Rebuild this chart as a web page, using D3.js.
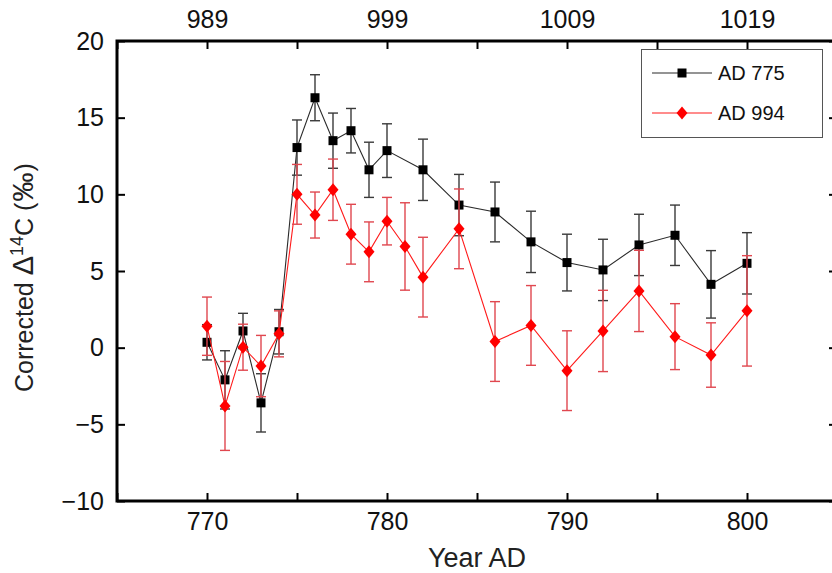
<!DOCTYPE html>
<html>
<head>
<meta charset="utf-8">
<script src="https://cdn.jsdelivr.net/npm/d3@7"></script>
<style>
  body { margin: 0; background: #fff; }
  svg { display: block; font-family: "Liberation Sans", Arial, sans-serif; }
</style>
</head>
<body>
<div id="chart"></div>
<script>
// AD 775 event (black squares)
const years775 = [770, 771, 772, 773, 774, 775, 776, 777, 778, 779, 780, 782, 784, 786, 788, 790, 792, 794, 796, 798, 800];
const values775 = [0.35, -2.1, 1.09, -3.6, 1.04, 13.05, 16.3, 13.5, 14.15, 11.6, 12.85, 11.6, 9.3, 8.85, 6.9, 5.55, 5.07, 6.7, 7.33, 4.13, 5.5];
const errors775 = [1.15, 1.9, 1.15, 1.9, 1.45, 1.8, 1.5, 1.8, 1.45, 1.8, 1.75, 2.0, 2.0, 1.95, 2.0, 1.85, 2.0, 2.0, 1.97, 2.2, 2.0];

// AD 994 event (red diamonds), plotted on the same relative years
const years994 = [770, 771, 772, 773, 774, 775, 776, 777, 778, 779, 780, 781, 782, 784, 786, 788, 790, 792, 794, 796, 798, 800];
const values994 = [1.4, -3.8, 0.03, -1.2, 0.9, 10.0, 8.65, 10.3, 7.4, 6.25, 8.25, 6.6, 4.6, 7.75, 0.4, 1.45, -1.5, 1.09, 3.7, 0.72, -0.48, 2.4];
const errors994 = [1.9, 2.9, 1.5, 2.0, 1.5, 1.95, 1.5, 2.0, 1.95, 1.95, 1.55, 2.85, 2.6, 2.6, 2.6, 2.6, 2.6, 2.65, 2.65, 2.15, 2.1, 3.6];

const bottomTicks = [770, 780, 790, 800];
const topTicks = [989, 999, 1009, 1019];
const yTicks = [-10, -5, 0, 5, 10, 15, 20];
const yearOffset = 219; // AD 994 = AD 775 + 219

const width = 832, height = 573;
const margin = { top: 41, right: -5, bottom: 72, left: 117 };

const svg = d3.select("#chart").append("svg")
  .attr("width", width)
  .attr("height", height);

const x = d3.scaleLinear().domain([765, 805]).range([margin.left, width - margin.right]);
const y = d3.scaleLinear().domain([-10, 20]).range([height - margin.bottom, margin.top]);

const fmt = (d) => (d < 0 ? "\u2212" + Math.abs(d) : String(d));

// minor ticks every 5 years, labels every 10
const minorX = d3.range(765, 806, 5);

function styleAxis(g) {
  g.select(".domain").remove();
  g.selectAll(".tick line").attr("stroke", "#000").attr("stroke-width", 2);
  g.selectAll(".tick text").attr("fill", "#111").attr("font-size", 25);
}

// bottom axis
svg.append("g")
  .attr("transform", `translate(0,${y(-10)})`)
  .call(d3.axisBottom(x).tickValues(minorX).tickSizeInner(-8).tickSizeOuter(0).tickPadding(11)
    .tickFormat((d) => (bottomTicks.includes(d) ? d : "")))
  .call(styleAxis);

// top axis (AD 994 years)
svg.append("g")
  .attr("transform", `translate(0,${y(20)})`)
  .call(d3.axisTop(x).tickValues(minorX).tickSizeInner(-8).tickSizeOuter(0).tickPadding(13)
    .tickFormat((d) => (topTicks.includes(d + yearOffset) ? d + yearOffset : "")))
  .call(styleAxis);

// left axis
svg.append("g")
  .attr("transform", `translate(${x(765)},0)`)
  .call(d3.axisLeft(y).tickValues(yTicks).tickSizeInner(-8).tickSizeOuter(0).tickPadding(13).tickFormat(fmt))
  .call(styleAxis);

// right axis (ticks only)
svg.append("g")
  .attr("transform", `translate(${x(805)},0)`)
  .call(d3.axisRight(y).tickValues(yTicks).tickSizeInner(-8).tickSizeOuter(0).tickFormat(""))
  .call(styleAxis);

// frame
svg.append("rect")
  .attr("x", x(765))
  .attr("y", y(20))
  .attr("width", x(805) - x(765))
  .attr("height", y(-10) - y(20))
  .attr("fill", "none")
  .attr("stroke", "#000")
  .attr("stroke-width", 3);

// axis titles
svg.append("text")
  .attr("x", x(785))
  .attr("y", 567)
  .attr("text-anchor", "middle")
  .attr("font-size", 27)
  .attr("fill", "#222")
  .text("Year AD");

const yTitle = svg.append("text")
  .attr("transform", `translate(33,392) rotate(-90)`)
  .attr("text-anchor", "start")
  .attr("font-size", 25)
  .attr("fill", "#222");
yTitle.append("tspan").text("Corrected ");
yTitle.append("tspan").attr("font-size", 29).text("\u0394");
yTitle.append("tspan").attr("font-size", 18).attr("dy", -10).text("14");
yTitle.append("tspan").attr("dy", 10).text("C (");
yTitle.append("tspan").attr("font-size", 29).attr("dx", 1).text("\u2030");
yTitle.append("tspan").attr("dx", 1).text(")");

const squarePath = (s) => `M${-s},${-s}H${s}V${s}H${-s}Z`;
const diamondPath = (w, h) => `M0,${-h}L${w},0L0,${h}L${-w},0Z`;

const series = [
  { years: years775, values: values775, errors: errors775, line: "#2a2a2a", bar: "#3a3a3a", marker: "#000", shape: squarePath(4.5) },
  { years: years994, values: values994, errors: errors994, line: "#ff1a1a", bar: "#e0474f", marker: "#ff0000", shape: diamondPath(5.5, 6.5) },
];

series.forEach((s) => {
  const pts = s.years.map((yr, i) => ({ yr, v: s.values[i], e: s.errors[i] }));
  const g = svg.append("g");

  g.append("path")
    .datum(pts)
    .attr("fill", "none")
    .attr("stroke", s.line)
    .attr("stroke-width", 1.1)
    .attr("d", d3.line().x((d) => x(d.yr)).y((d) => y(d.v)));

  const bars = g.selectAll("g.err").data(pts).enter().append("g").attr("class", "err")
    .attr("stroke", s.bar).attr("stroke-width", 1.4);
  bars.append("line")
    .attr("x1", (d) => x(d.yr)).attr("x2", (d) => x(d.yr))
    .attr("y1", (d) => y(d.v + d.e)).attr("y2", (d) => y(d.v - d.e));
  bars.append("line")
    .attr("x1", (d) => x(d.yr) - 5).attr("x2", (d) => x(d.yr) + 5)
    .attr("y1", (d) => y(d.v + d.e)).attr("y2", (d) => y(d.v + d.e));
  bars.append("line")
    .attr("x1", (d) => x(d.yr) - 5).attr("x2", (d) => x(d.yr) + 5)
    .attr("y1", (d) => y(d.v - d.e)).attr("y2", (d) => y(d.v - d.e));

  g.selectAll("path.mk").data(pts).enter().append("path").attr("class", "mk")
    .attr("transform", (d) => `translate(${x(d.yr)},${y(d.v)})`)
    .attr("d", s.shape)
    .attr("fill", s.marker);
});

// legend
const legend = svg.append("g");
legend.append("rect")
  .attr("x", 641.5).attr("y", 49.5).attr("width", 181).attr("height", 88)
  .attr("fill", "#fff").attr("stroke", "#555").attr("stroke-width", 1);

const legendItems = [
  { label: "AD 775", s: series[0], cy: 73 },
  { label: "AD 994", s: series[1], cy: 113 },
];
legendItems.forEach((it) => {
  legend.append("line")
    .attr("x1", 652).attr("x2", 712).attr("y1", it.cy).attr("y2", it.cy)
    .attr("stroke", it.s.line).attr("stroke-width", 1.1);
  legend.append("path")
    .attr("transform", `translate(682,${it.cy})`)
    .attr("d", it.s.shape)
    .attr("fill", it.s.marker);
  legend.append("text")
    .attr("x", 718).attr("y", it.cy + 7)
    .attr("font-size", 20)
    .attr("fill", "#111")
    .text(it.label);
});
</script>
</body>
</html>
